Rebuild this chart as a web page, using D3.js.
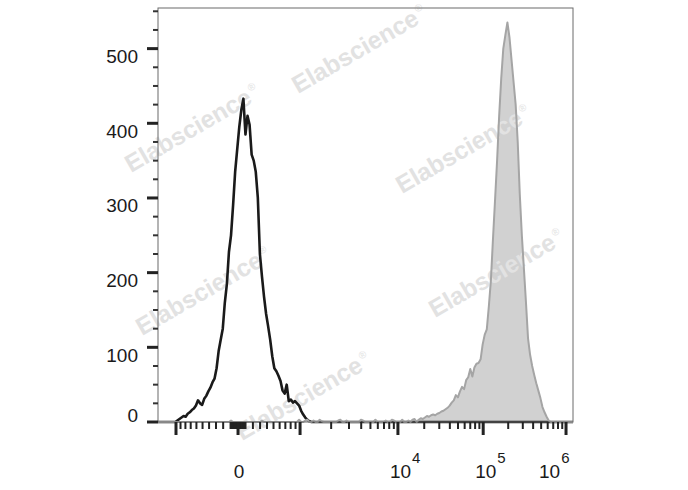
<!DOCTYPE html>
<html><head><meta charset="utf-8">
<script src="https://cdn.jsdelivr.net/npm/d3@7"></script>
<style>body{margin:0;background:#fff}</style>
</head><body><svg id="c" width="688" height="490"></svg>
<script>
// ---------- data ----------
const yTickValues = [0, 100, 200, 300, 400, 500];
const yTickLabels = ["0", "100", "200", "300", "400", "500"];
const xMajorValues = [-1000, 0, 1000, 1e4, 1e5, 1e6];
const xLabelValues = [0, 1e4, 1e5, 1e6];
const xLabelBase = ["0", "10", "10", "10"];
const xLabelExp = ["", "4", "5", "6"];
// histogram bins in display (logicle) units
const binStart = -0.96, binStep = 0.025;
const blackStartBin = 9;
const blackCounts = [
  2, 4, 6, 8, 7, 11, 13, 16, 18, 22,
  29, 25, 23, 31, 35, 41, 46, 53, 58, 72,
  95, 110, 125, 160, 185, 228, 250, 290, 335, 365,
  395, 418, 433, 385, 410, 398, 358, 350, 335, 300,
  225, 195, 168, 145, 128, 110, 88, 72, 68, 62,
  55, 42, 38, 50, 28, 30, 26, 28, 25, 22,
  15, 10, 6, 3, 1
];
const grayStartBin = 0;
const grayCounts = [
  0,0,0,0,0,0,0,0,0,0,
  0,0,0,0,0,0,0,0,0,0,
  0,0,0,0,0,0,0,0,0,0,
  0,0,0,0,0,2,0,0,0,0,
  0,0,0,0,0,0,0,0,0,0,
  2,0,0,0,0,0,0,0,0,0,
  0,0,0,0,0,0,0,0,3,0,
  0,2,3,0,0,2,0,0,3,1,
  0,0,0,0,0,0,0,2,3,0,
  0,2,0,0,0,0,0,0,3,2,
  0,0,0,0,0,3,0,0,0,0,
  2,0,0,3,2,0,0,0,3,0,
  0,2,0,3,4,0,3,5,4,6,
  8,7,9,10,9,11,12,14,15,17,
  19,22,26,29,36,33,41,47,44,56,
  60,71,61,73,78,79,84,104,117,124,
  155,190,245,297,350,410,460,500,518,535,
  515,485,455,425,375,305,250,205,160,112,
  90,75,63,52,42,32,20,13,7,2,
  0
];
const watermarkText = "Elabscience";

// ---------- layout ----------
const L = 158, R = 573, T = 8, B = 422;
const FONT = "Liberation Sans, Arial, sans-serif";
const svg = d3.select("#c");

// logicle-like transform: display units u -> data value
const LA = 105.7, LP = 3.52;
function logicleVal(u) {
  const s = u < 0 ? -1 : 1, a = Math.abs(u);
  return s * LA * (Math.pow(10, a) - LP * LP * Math.pow(10, -a / LP) + LP * LP - 1);
}
function toU(v) {
  let lo = -3, hi = 7;
  for (let k = 0; k < 80; k++) {
    const m = (lo + hi) / 2;
    if (logicleVal(m) < v) lo = m; else hi = m;
  }
  return (lo + hi) / 2;
}

const xU = d3.scaleLinear().domain([-0.97, 4.06]).range([L, R]);
const xV = v => xU(toU(v));
const y = d3.scaleLinear().domain([0, 554.4]).range([B, T]);

// ---------- histogram series ----------
const nBins = 203;
const blackSeries = d3.range(nBins).map(i => ({u: binStart + i * binStep,
  c: (i >= blackStartBin && i < blackStartBin + blackCounts.length) ? blackCounts[i - blackStartBin] : 0}));
const graySeries = d3.range(nBins).map(i => ({u: binStart + i * binStep,
  c: (i >= grayStartBin && i < grayStartBin + grayCounts.length) ? grayCounts[i - grayStartBin] : 0}));
blackSeries.unshift({u: -0.97, c: 0});
graySeries.unshift({u: -0.97, c: 0});

const defs = svg.append("defs");
defs.append("clipPath").attr("id", "plotclip").append("rect")
  .attr("x", L).attr("y", T - 2).attr("width", R - L).attr("height", B - T + 4);

const plot = svg.append("g").attr("clip-path", "url(#plotclip)");
const area = d3.area().x(d => xU(d.u)).y0(y(0)).y1(d => y(d.c));
const line = d3.line().x(d => xU(d.u)).y(d => y(d.c));

plot.append("path").datum(graySeries).attr("d", area).attr("fill", "#d1d1d1");

// ---------- watermarks ----------
const wmPos = [[131, 173], [298, 94], [402, 194], [435, 318], [142, 336], [242, 441]];
wmPos.forEach(p => {
  const g = svg.append("g").attr("transform", `translate(${p[0]},${p[1]}) rotate(-30)`);
  const t = g.append("text").text(watermarkText)
    .attr("font-family", FONT)
    .attr("font-weight", "bold").attr("font-size", 24.5).attr("fill", "#e2e2e2");
  const w = t.node().getComputedTextLength();
  g.append("text").text("®").attr("x", w + 2).attr("y", -11)
    .attr("font-family", FONT)
    .attr("font-size", 10).attr("fill", "#e2e2e2");
});

const plot2 = svg.append("g").attr("clip-path", "url(#plotclip)");
plot2.append("path").datum(blackSeries).attr("d", line)
  .attr("fill", "none").attr("stroke", "#1a1a1a").attr("stroke-width", 2.6)
  .attr("stroke-linejoin", "round");
plot2.append("path").datum(graySeries).attr("d", line)
  .attr("fill", "none").attr("stroke", "#a5a5a5").attr("stroke-width", 2)
  .attr("stroke-linejoin", "round");

// ---------- frame ----------
svg.append("rect").attr("x", L).attr("y", T).attr("width", R - L).attr("height", B - T)
  .attr("fill", "none").attr("stroke", "#6b6b6b").attr("stroke-width", 1);

// ---------- y axis ----------
const yMinor = d3.range(25, 555, 25).filter(v => v % 100 !== 0);
svg.append("g").selectAll("line.ymin").data(yMinor).join("line")
  .attr("x1", L - 5).attr("x2", L).attr("y1", d => y(d)).attr("y2", d => y(d))
  .attr("stroke", "#333").attr("stroke-width", 2);
svg.append("g").selectAll("line.ymaj").data(yTickValues).join("line")
  .attr("x1", L - 11).attr("x2", L).attr("y1", d => y(d)).attr("y2", d => y(d))
  .attr("stroke", "#222").attr("stroke-width", 3);
svg.append("g").selectAll("text").data(yTickValues).join("text")
  .attr("x", 138).attr("y", (d) => d === 0 ? y(d) : y(d) + 14.5)
  .attr("text-anchor", "end")
  .attr("font-family", FONT).attr("font-size", 19)
  .attr("fill", "#1a1a1a").text((d, i) => yTickLabels[i]);

// ---------- x axis ----------
const xMinor = [];
[-1, 1].forEach(s => {
  d3.range(10, 100, 10).forEach(v => xMinor.push(s * v));
  d3.range(100, 1000, 100).forEach(v => xMinor.push(s * v));
});
[1e3, 1e4, 1e5].forEach(dec => d3.range(2, 10).forEach(m => xMinor.push(m * dec)));
svg.append("g").selectAll("line").data(xMinor).join("line")
  .attr("x1", d => xV(d)).attr("x2", d => xV(d)).attr("y1", B).attr("y2", B + 7)
  .attr("stroke", "#222").attr("stroke-width", 2);
svg.append("g").selectAll("line").data(xMajorValues).join("line")
  .attr("x1", d => xV(d)).attr("x2", d => xV(d)).attr("y1", B).attr("y2", B + 13)
  .attr("stroke", "#222").attr("stroke-width", 3);

const xl = svg.append("g").attr("font-family", FONT).attr("fill", "#1a1a1a");
xLabelValues.forEach((v, i) => {
  const px = xV(v);
  if (xLabelExp[i] === "") {
    xl.append("text").attr("x", px + 1).attr("y", 478).attr("text-anchor", "middle")
      .attr("font-size", 19).text(xLabelBase[i]);
  } else {
    const start = Math.min(px - 8, R - 34);
    const t = xl.append("text").attr("x", start).attr("y", 478).attr("font-size", 19);
    t.append("tspan").text(xLabelBase[i]);
    t.append("tspan").attr("dy", -15).attr("dx", 1).attr("font-size", 15).text(xLabelExp[i]);
  }
});
</script></body></html>
